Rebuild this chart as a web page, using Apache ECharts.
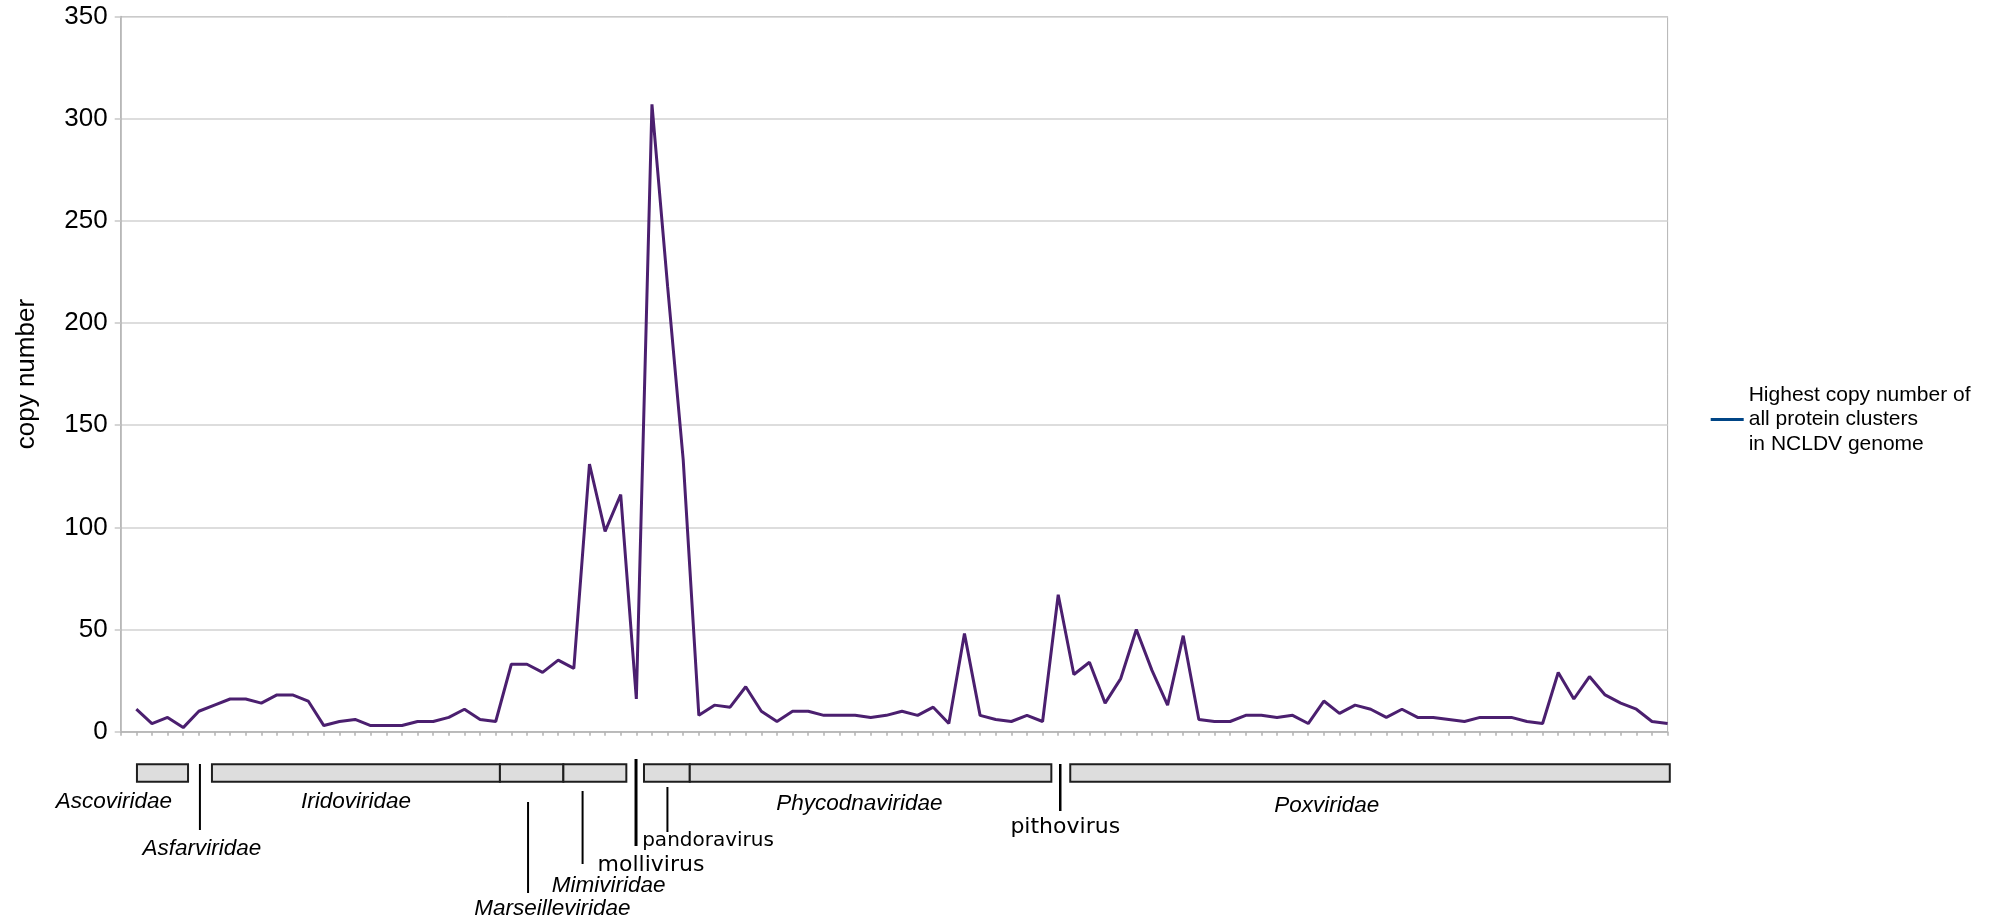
<!DOCTYPE html>
<html><head><meta charset="utf-8">
<script src="https://cdn.jsdelivr.net/npm/echarts@6/dist/echarts.min.js"></script>
<style>html,body{margin:0;padding:0;background:#fff}#chart{width:1999px;height:922px}</style>
</head><body><div id="chart"></div>
<script>
// ---- data ----
const copyNumbers = [11,4,7,2,10,13,16,16,14,18,18,15,3,5,6,3,3,3,5,5,7,11,6,5,33,33,29,35,31,131,98,116,16,307,218,133,8,13,12,22,10,5,10,10,8,8,8,7,8,10,8,12,4,48,8,6,5,8,5,67,28,34,14,26,50,30,13,47,6,5,5,8,8,7,8,4,15,9,13,11,7,11,7,7,6,5,7,7,7,5,4,29,16,27,18,14,11,5,4];
const genomeIndex = copyNumbers.map((_, i) => String(i + 1));
const categories = [''].concat(genomeIndex);
const yTickValues = [0, 50, 100, 150, 200, 250, 300, 350];
const seriesName = 'Highest copy number of\nall protein clusters\nin NCLDV genome';
const yAxisName = 'copy number';
// families as ranges of genome positions (category units)
const familyNames = ['Ascoviridae','Iridoviridae','Marseilleviridae','Mimiviridae','pandoravirus','Phycodnaviridae','Poxviridae'];
const familyFrom  = [1.04, 5.84, 24.27, 28.33, 33.49, 36.42, 60.77];
const familyTo    = [4.31, 24.27, 28.33, 32.36, 36.42, 59.56, 99.14];
// single-genome / pointer markers
const markerNames = ['Asfarviridae','Marseilleviridae','Mimiviridae','mollivirus','pandoravirus','pithovirus'];
const markerAt    = [5.07, 26.07, 29.56, 32.98, 34.99, 60.13];
// label names and their centre position (category units)
const labelNames = ['Ascoviridae','Asfarviridae','Iridoviridae','Marseilleviridae','Mimiviridae','mollivirus','pandoravirus','Phycodnaviridae','pithovirus','Poxviridae'];
const labelAt    = [-0.43, 5.2, 15.06, 27.63, 31.23, 33.94, 37.59, 47.27, 60.45, 77.18];

// ---- layout / style (not data) ----
const markerLayout = {
  'Asfarviridae': [764, 830, 2], 'Marseilleviridae': [802, 893, 2], 'Mimiviridae': [791, 864, 2],
  'mollivirus': [759, 846, 3], 'pandoravirus': [787, 832, 2], 'pithovirus': [764, 811, 2.5]
};
const labelLayout = {
  'Ascoviridae': [802, 'italic', 22.5, 'Liberation Sans'],
  'Asfarviridae': [849, 'italic', 22.5, 'Liberation Sans'],
  'Iridoviridae': [802, 'italic', 22.5, 'Liberation Sans'],
  'Marseilleviridae': [909, 'italic', 22.5, 'Liberation Sans'],
  'Mimiviridae': [886, 'italic', 22.5, 'Liberation Sans'],
  'mollivirus': [865, 'normal', 22, 'DejaVu Sans'],
  'pandoravirus': [841, 'normal', 20, 'DejaVu Sans'],
  'Phycodnaviridae': [804, 'italic', 22.5, 'Liberation Sans'],
  'pithovirus': [827, 'normal', 22, 'DejaVu Sans'],
  'Poxviridae': [806, 'italic', 22.5, 'Liberation Sans']
};
const boxTop = 764.3, boxHeight = 17.4;

const chart = echarts.init(document.getElementById('chart'), null, {renderer: 'canvas'});
const option = {
  animation: false,
  backgroundColor: '#ffffff',
  textStyle: {fontFamily: 'Liberation Sans'},
  grid: {left: 120.7, right: 331.4, top: 16.5, bottom: 190.3, show: true, borderColor: '#b3b3b3', borderWidth: 1, backgroundColor: 'transparent'},
  legend: {
    show: true, left: 1710.7, top: 376, padding: 0,
    icon: 'rect', itemWidth: 33, itemHeight: 3, itemGap: 0,
    data: [{name: seriesName, itemStyle: {color: '#004586'}}],
    textStyle: {fontSize: 21, color: '#000', lineHeight: 24.6, fontFamily: 'Liberation Sans', padding: [0, 0, 13, 0]},
    selectedMode: false
  },
  xAxis: {
    type: 'category', data: categories, boundaryGap: false,
    axisLine: {show: true, lineStyle: {color: '#b3b3b3', width: 1.5}},
    axisTick: {show: true, interval: 0, length: 4, lineStyle: {color: '#b3b3b3', width: 1.5}},
    axisLabel: {show: false},
    splitLine: {show: false}
  },
  yAxis: {
    type: 'value', min: yTickValues[0], max: yTickValues[yTickValues.length - 1], interval: yTickValues[1] - yTickValues[0],
    name: yAxisName, nameLocation: 'middle', nameGap: 81, nameRotate: 90,
    nameTextStyle: {fontSize: 26, color: '#000', fontFamily: 'Liberation Sans'},
    axisLine: {show: true, lineStyle: {color: '#b3b3b3', width: 1.5}},
    axisTick: {show: true, length: 6, lineStyle: {color: '#c8c8c8', width: 1.5}},
    axisLabel: {fontSize: 26, color: '#000', margin: 13, fontFamily: 'Liberation Sans', padding: [8, 0, 0, 0]},
    splitLine: {show: true, lineStyle: {color: '#d2d2d2', width: 1.5}}
  },
  series: [{
    name: seriesName, type: 'line', data: ['-'].concat(copyNumbers),
    showSymbol: false, symbol: 'none',
    lineStyle: {color: '#4b1f6f', width: 3},
    itemStyle: {color: '#4b1f6f'}
  }]
};
chart.setOption(option);

function buildAnnotations() {
  const x0 = chart.convertToPixel({xAxisIndex: 0}, 0);
  const xN = chart.convertToPixel({xAxisIndex: 0}, categories.length - 1);
  const pos = p => x0 + (xN - x0) * p / (categories.length - 1);
  const g = [];
  familyNames.forEach((n, i) => {
    const a = pos(familyFrom[i]), b = pos(familyTo[i]);
    g.push({type: 'rect', shape: {x: a, y: boxTop, width: b - a, height: boxHeight},
      style: {fill: '#dddddd', stroke: '#1e1e1e', lineWidth: 2}, z: 10});
  });
  markerNames.forEach((n, i) => {
    const x = pos(markerAt[i]);
    const L = markerLayout[n];
    g.push({type: 'line', shape: {x1: x, y1: L[0], x2: x, y2: L[1]},
      style: {stroke: '#000', lineWidth: L[2]}, z: 11});
  });
  labelNames.forEach((n, i) => {
    const L = labelLayout[n];
    g.push({type: 'text', x: pos(labelAt[i]), y: L[0], z: 12,
      style: {text: n, fill: '#000', fontStyle: L[1], fontSize: L[2], fontFamily: L[3], align: 'center', verticalAlign: 'middle'}});
  });
  chart.setOption({graphic: g});
}
buildAnnotations();
</script>
</body></html>
